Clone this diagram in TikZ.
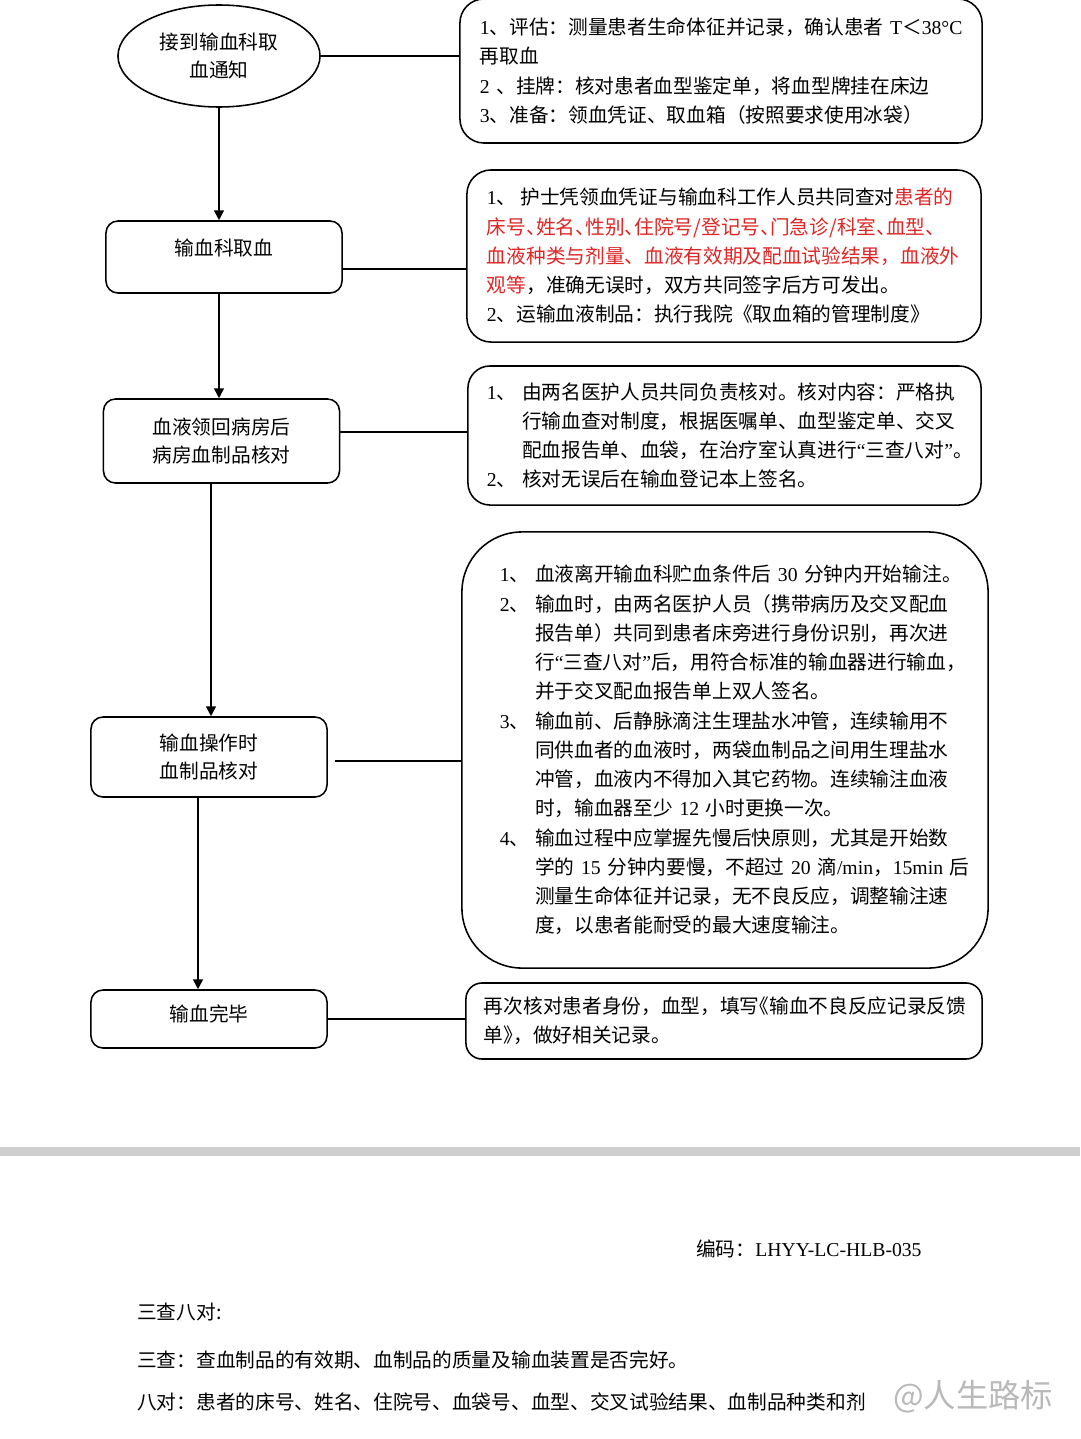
\documentclass[tikz,border=0pt]{standalone}
\usepackage{fontspec}
\setmainfont{Noto Sans CJK SC}
\newfontfamily\latfont{Liberation Serif}
\newfontfamily\halffont[RawFeature=+halt]{Noto Sans CJK SC}
\usetikzlibrary{arrows.meta,shapes.geometric}

\definecolor{notered}{RGB}{222,38,38}
\newcommand{\lat}[1]{{\latfont #1}}
\newcommand{\hp}[1]{{\halffont #1}}
\newcommand{\redtxt}[1]{\textcolor{notered}{#1}}
\newcommand{\lab}[1]{\makebox[0.88cm][l]{#1}}
\newcommand{\indentline}{\hspace*{0.88cm}}

\tikzset{
  flowbox/.style={draw, rounded corners=0.3cm, line width=1.1pt, minimum width=5.9cm,
    align=center, font=\fontsize{14pt}{20.5pt}\selectfont},
  notebox/.style={draw, line width=1.1pt, align=left, inner ysep=0pt,
    font=\fontsize{14pt}{20.8pt}\selectfont},
  flow/.style={line width=1.1pt, -{Triangle[length=7pt,width=7pt]}},
  link/.style={line width=1.1pt},
}

\begin{document}
\begin{tikzpicture}[x=0.025cm, y=-0.025cm]
    \useasboundingbox (0,0) rectangle (1080,1439);
    \fill[white] (0,0) rectangle (1080,1439);

    % left column
    \node[flowbox, ellipse, rounded corners=0pt, minimum width=5.05cm, minimum height=2.55cm] (notice) at (219,56) {接到输血科取\\血通知};
    \node[flowbox, minimum height=1.8cm] (fetch) at (224,257) {\raisebox{0.5cm}{输血科取血}};
    \node[flowbox, minimum height=2.1cm] (ward) at (221.5,441) {血液领回病房后\\病房血制品核对};
    \node[flowbox, minimum height=2cm] (infuse) at (209,757) {输血操作时\\血制品核对};
    \node[flowbox, minimum height=1.45cm] (finish) at (209,1019) {\raisebox{0.3cm}{输血完毕}};

    % right column
    \node[notebox, rounded corners=0.6cm, text width=12.05cm, inner xsep=0.5cm, minimum height=3.6cm] (prep) at (721,71) {%
        \lat{1}、评估：测量患者生命体征并记录，确认患者~\lat{T}＜\lat{38°C}\\
        再取血\\
        \lat{2} 、挂牌：核对患者血型鉴定单，将血型牌挂在床边\\
        \lat{3}、准备：领血凭证、取血箱（按照要求使用冰袋）};
    \node[notebox, rounded corners=0.6cm, text width=11.85cm, inner xsep=0.5cm, minimum height=4.3cm] (fetchnote) at (724,256) {%
        \makebox[0.84cm][l]{\lat{1}、}护士凭领血凭证与输血科工作人员共同查对\redtxt{患者的}\\
        \redtxt{床号\hp{、}姓名\hp{、}性别\hp{、}住院号/登记号\hp{、}门急诊/科室\hp{、}血型\hp{、}}\\
        \redtxt{血液种类与剂量、血液有效期及配血试验结果，血液外}\\
        \redtxt{观等}，准确无误时，双方共同签字后方可发出。\\
        \lat{2}、运输血液制品：执行我院《取血箱的管理制度》};
    \node[notebox, rounded corners=0.55cm, text width=11.875cm, inner xsep=0.475cm, minimum height=3.475cm] (wardnote) at (724.5,435.5) {%
        \lab{\lat{1}、}由两名医护人员共同负责核对。核对内容：严格执\\
        \indentline 行输血查对制度，根据医嘱单、血型鉴定单、交叉\\
        \indentline 配血报告单、血袋，在治疗室认真进行\lat{“}三查八对\lat{”}。\\
        \lab{\lat{2}、}核对无误后在输血登记本上签名。};
    \node[notebox, rounded corners=1.5cm, text width=11.25cm, inner xsep=0.95cm, minimum height=10.9cm] (infusenote) at (725,750) {%
        \lab{\lat{1}、}血液离开输血科贮血条件后~\lat{30}~分钟内开始输注。\\
        \lab{\lat{2}、}输血时，由两名医护人员（携带病历及交叉配血\\
        \indentline 报告单）共同到患者床旁进行身份识别，再次进\\
        \indentline 行\lat{“}三查八对\lat{”}后，用符合标准的输血器进行输血，\\
        \indentline 并于交叉配血报告单上双人签名。\\
        \lab{\lat{3}、}输血前、后静脉滴注生理盐水冲管，连续输用不\\
        \indentline 同供血者的血液时，两袋血制品之间用生理盐水\\
        \indentline 冲管，血液内不得加入其它药物。连续输注血液\\
        \indentline 时，输血器至少~\lat{12}~小时更换一次。\\
        \lab{\lat{4}、}输血过程中应掌握先慢后快原则，尤其是开始数\\
        \indentline 学的~\lat{15}~分钟内要慢，不超过~\lat{20}~滴\lat{/min}，\lat{15min}~后\\
        \indentline 测量生命体征并记录，无不良反应，调整输注速\\
        \indentline 度，以患者能耐受的最大速度输注。};
    \node[notebox, rounded corners=0.4cm, text width=12cm, inner xsep=0.45cm, minimum height=1.9cm] (finishnote) at (724,1021) {%
        再次核对患者身份，血型，填写\hp{《}输血不良反应记录反馈\\
        单\hp{》}，做好相关记录。};

    % arrows down the left column
    \draw[flow] (notice.south) -- (notice.south |- fetch.north);
    \draw[flow] (notice.south |- fetch.south) -- (notice.south |- ward.north);
    \draw[flow] ([xshift=0.05cm]infuse.north |- ward.south) -- ([xshift=0.05cm]infuse.north);
    \draw[flow] ([xshift=-0.275cm]infuse.south) -- ([xshift=-0.275cm]finish.north);

    % links to the notes
    \draw[link] (notice.east) -- (notice.east -| prep.west);
    \draw[link] ([yshift=-0.3cm]fetch.east) -- ([yshift=-0.3cm]fetch.east -| fetchnote.west);
    \draw[link] ([yshift=0.225cm]ward.east) -- ([yshift=0.225cm]ward.east -| wardnote.west);
    \draw[link] ([xshift=0.175cm,yshift=-0.1cm]infuse.east) -- ([yshift=-0.1cm]infuse.east -| infusenote.west);
    \draw[link] (finish.east) -- (finish.east -| finishnote.west);

    % page break and the next page
    \fill[gray!38] (0,1147) rectangle (1080,1156);
    \begin{scope}[every node/.style={anchor=west, inner sep=0pt, font=\fontsize{14pt}{16pt}\selectfont}]
    \node (code) at (696,1249) {编码：\lat{LHYY-LC-HLB-035}};
    \node (checks) at (137,1312) {三查八对:};
    \node (three) at (137,1360) {三查：查血制品的有效期、血制品的质量及输血装置是否完好。};
    \node (eight) at (137,1402) {八对：患者的床号、姓名、住院号、血袋号、血型、交叉试验结果、血制品种类和剂};
    \node[text=gray!55, font=\fontsize{23pt}{26pt}\selectfont] (mark) at (893,1397) {@人生路标};
    \end{scope}
\end{tikzpicture}
\end{document}
